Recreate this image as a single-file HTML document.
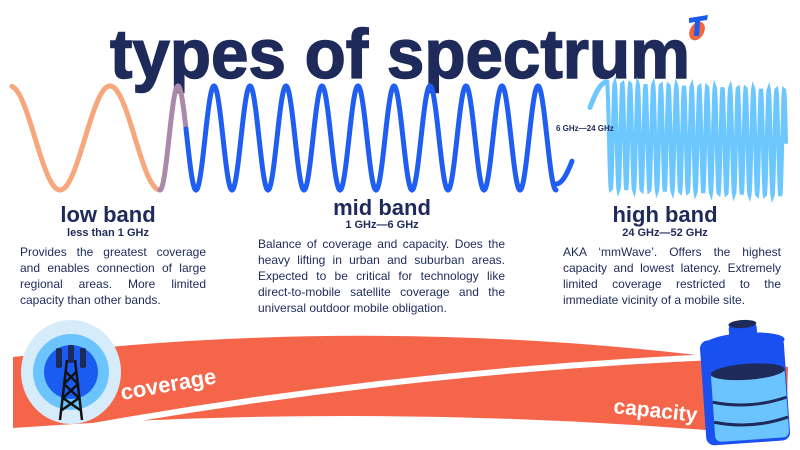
<!DOCTYPE html>
<html><head><meta charset="utf-8"><style>
body{margin:0;width:800px;height:450px;overflow:hidden;background:#fff;font-family:"Liberation Sans",sans-serif;color:#1e2a5a;position:relative}
.p{position:absolute;font-size:12px;line-height:16px;text-align:justify;color:#1e2a5a}
.h{position:absolute;text-align:center;font-weight:bold;color:#1e2a5a}
</style></head><body>
<svg width="800" height="450" style="position:absolute;left:0;top:0">
<text x="110" y="78" font-family="Liberation Sans" font-weight="bold" font-size="70" fill="#1e2a5a" stroke="#1e2a5a" stroke-width="1.5" textLength="580" lengthAdjust="spacingAndGlyphs">types of spectrum</text>
<ellipse cx="697" cy="31" rx="7" ry="10" fill="#f0673f" transform="rotate(30 697 31)"/>
<path d="M689 18 L708 15 L707 20 L700 21 L699 36 L694 36 L695 22 L689 23Z" fill="#1a5cf0"/>
<g fill="none" stroke-linecap="round">
<path id="w1" stroke="#f6a77c" stroke-width="5"/>
<path id="w2" stroke="#a98aa8" stroke-width="5"/>
<path id="w3" stroke="#1f5ef0" stroke-width="5"/>
<path id="w4" stroke="#1f5ef0" stroke-width="5"/>
<path id="w5" stroke="#6dc7ff" stroke-width="5"/>
<path id="w6" stroke="#6dc7ff" stroke-width="4"/>
</g>
<text x="556" y="131" font-family="Liberation Sans" font-weight="bold" font-size="8" fill="#1e2a5a">6 GHz—24 GHz</text>
<path d="M13 357 Q400 310 788 367 L786 437 Q400 400 13 428 Z" fill="#f4654a"/>
<path d="M43 435 Q380 372 714 357" stroke="#fff" stroke-width="6" fill="none"/>
<text x="122" y="400" font-family="Liberation Sans" font-weight="bold" font-size="22" fill="#fff" transform="rotate(-10 122 400)">coverage</text>
<text x="613" y="413" font-family="Liberation Sans" font-weight="bold" font-size="21" fill="#fff" transform="rotate(6 613 413)">capacity</text>
<ellipse cx="71" cy="372" rx="50" ry="52" fill="#d6ecfb"/>
<circle cx="71" cy="372" r="38" fill="#6cc4ff"/>
<circle cx="71" cy="372" r="27" fill="#1a5cf0"/>
<g stroke="#111" stroke-width="2.5" fill="none">
<path d="M67 360 L60 420 M75 360 L82 420 M66 372 L78 384 L63 398 L80 410 M76 372 L64 384 L79 398 L62 410"/>
</g>
<g fill="#1e2a5a"><rect x="56" y="348" width="6" height="20" rx="2"/><rect x="68" y="345" width="6" height="18" rx="2"/><rect x="80" y="348" width="6" height="20" rx="2"/></g>
<g transform="rotate(-4 745 390)">
<rect x="703" y="338" width="84" height="105" rx="8" fill="#1a4ff0"/>
<rect x="712" y="370" width="74" height="70" rx="6" fill="#6cc4ff"/>
<ellipse cx="748" cy="342" rx="40" ry="9" fill="#1a4ff0"/>
<rect x="733" y="324" width="28" height="14" rx="4" fill="#1a4ff0"/>
<ellipse cx="747" cy="324" rx="14" ry="4" fill="#1e2a5a"/>
<ellipse cx="749" cy="372" rx="37" ry="8" fill="#1e2a5a"/>
<path d="M712 400 Q749 410 786 400 M712 420 Q749 430 786 420" stroke="#1e2a5a" stroke-width="3" fill="none"/>
</g>
</svg>
<div class="h" style="left:8px;width:200px;top:202px;font-size:22px">low band</div>
<div class="h" style="left:8px;width:200px;top:227px;font-size:11px">less than 1 GHz</div>
<div class="p" style="left:20px;top:244px;width:186px">Provides the greatest coverage and enables connection of large regional areas. More limited capacity than other bands.</div>
<div class="h" style="left:282px;width:200px;top:195px;font-size:22px">mid band</div>
<div class="h" style="left:282px;width:200px;top:219px;font-size:11px">1 GHz—6 GHz</div>
<div class="p" style="left:258px;top:236px;width:247px">Balance of coverage and capacity. Does the heavy lifting in urban and suburban areas. Expected to be critical for technology like direct-to-mobile satellite coverage and the universal outdoor mobile obligation.</div>
<div class="h" style="left:565px;width:200px;top:202px;font-size:22px">high band</div>
<div class="h" style="left:565px;width:200px;top:227px;font-size:11px">24 GHz—52 GHz</div>
<div class="p" style="left:563px;top:244px;width:218px">AKA ‘mmWave’. Offers the highest capacity and lowest latency. Extremely limited coverage restricted to the immediate vicinity of a mobile site.</div>
<script>
function seg(id,x0,x1,xr,per,c,a,st,dc){var d="";for(var x=x0;x<=x1+1e-6;x+=st){var cc=c+(dc?dc*(x-x0)/(x1-x0):0);var y=cc-a*Math.cos(2*Math.PI*(x-xr)/per);d+=(d?"L":"M")+x.toFixed(2)+" "+y.toFixed(2);}document.getElementById(id).setAttribute("d",d);}
seg("w1",12,160,110,100,138,52,1);
seg("w2",160,186,178,36,138,52,0.5);
seg("w3",186,556,178,36,138,52,0.5);
seg("w4",556,572,607,102,133,51,0.5);
seg("w5",590,607,607,102,133,51,0.5);
seg("w6",607,786,607,7.7,136,53,0.25,7);
</script>
</body></html>
